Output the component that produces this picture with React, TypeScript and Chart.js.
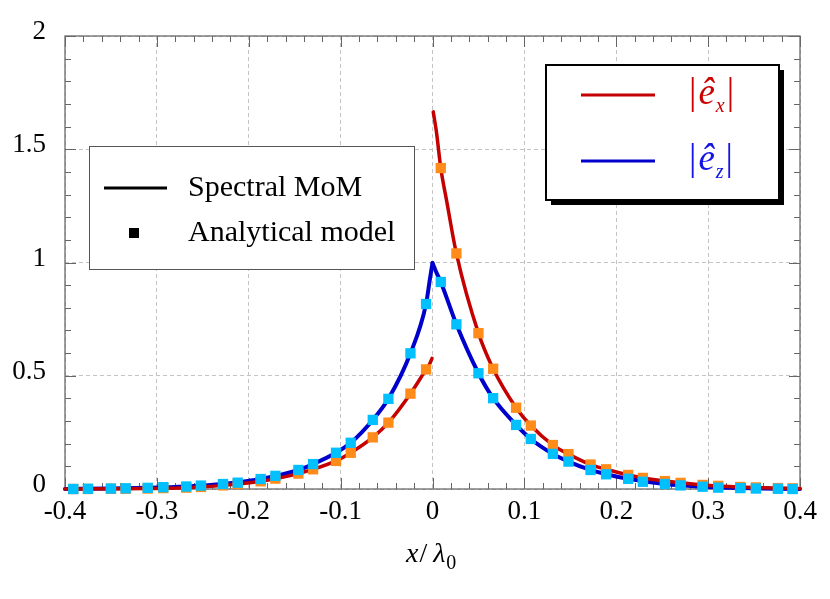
import { useEffect, useRef } from 'react'
import Chart from 'chart.js/auto'

// axis ticks
const xTicks = [-0.4, -0.3, -0.2, -0.1, 0, 0.1, 0.2, 0.3, 0.4]
const xTickLabels = ['-0.4', '-0.3', '-0.2', '-0.1', '0', '0.1', '0.2', '0.3', '0.4']
const yTicks = [0, 0.5, 1, 1.5, 2]
const yTickLabels = ['0', '0.5', '1', '1.5', '2']

// analytical model samples (square markers)
const markerX = [
  -0.391, -0.375, -0.35, -0.334, -0.31, -0.293, -0.268, -0.252, -0.228, -0.212,
  -0.187, -0.171, -0.146, -0.13, -0.105, -0.089, -0.065, -0.048, -0.024, -0.007,
  0.009, 0.026, 0.05, 0.066, 0.091, 0.107, 0.131, 0.148, 0.172, 0.189,
  0.213, 0.229, 0.253, 0.27, 0.294, 0.311, 0.335, 0.352, 0.376, 0.392,
]
const exMarker = [
  0.0, 0.0, 0.001, 0.001, 0.002, 0.004, 0.006, 0.009, 0.016, 0.022,
  0.034, 0.046, 0.068, 0.087, 0.124, 0.16, 0.228, 0.293, 0.421, 0.528,
  1.417, 1.04, 0.688, 0.531, 0.359, 0.28, 0.194, 0.154, 0.108, 0.087,
  0.062, 0.049, 0.035, 0.027, 0.018, 0.014, 0.009, 0.007, 0.004, 0.003,
]
const ezMarker = [
  0.0, 0.001, 0.002, 0.003, 0.005, 0.008, 0.011, 0.015, 0.022, 0.028,
  0.044, 0.058, 0.084, 0.11, 0.16, 0.204, 0.305, 0.398, 0.599, 0.817,
  0.914, 0.727, 0.511, 0.401, 0.283, 0.221, 0.155, 0.121, 0.084, 0.065,
  0.045, 0.032, 0.022, 0.016, 0.01, 0.006, 0.004, 0.002, 0.001, 0.0,
]

// spectral MoM curves
const exLeftX = [-0.4, -0.35, -0.31, -0.268, -0.228, -0.187, -0.146, -0.105, -0.089, -0.065, -0.048, -0.024, -0.007, -0.003, -0.0005]
const exLeftY = [0.0, 0.001, 0.002, 0.006, 0.016, 0.034, 0.068, 0.124, 0.16, 0.228, 0.293, 0.421, 0.528, 0.553, 0.577]
const exRightX = [0.0008, 0.0045, 0.009, 0.0155, 0.026, 0.05, 0.066, 0.091, 0.107, 0.131, 0.148, 0.172, 0.189, 0.213, 0.229, 0.253, 0.294, 0.335, 0.376, 0.4]
const exRightY = [1.665, 1.57, 1.417, 1.27, 1.04, 0.688, 0.531, 0.359, 0.28, 0.194, 0.154, 0.108, 0.087, 0.062, 0.049, 0.035, 0.018, 0.009, 0.004, 0.002]
const ezLeftX = [-0.4, -0.35, -0.31, -0.268, -0.228, -0.187, -0.146, -0.13, -0.105, -0.089, -0.065, -0.048, -0.024, -0.007, -0.003, 0]
const ezLeftY = [0.0, 0.002, 0.005, 0.011, 0.022, 0.044, 0.084, 0.11, 0.16, 0.204, 0.305, 0.398, 0.599, 0.817, 0.922, 0.998]
const ezRightX = [0, 0.004, 0.009, 0.026, 0.05, 0.066, 0.091, 0.107, 0.131, 0.148, 0.172, 0.189, 0.213, 0.253, 0.294, 0.335, 0.376, 0.4]
const ezRightY = [0.998, 0.958, 0.914, 0.727, 0.511, 0.401, 0.283, 0.221, 0.155, 0.121, 0.084, 0.065, 0.045, 0.022, 0.01, 0.004, 0.001, 0.0]

const RED = '#c40000'
const BLUE = '#0000cc'
const ORANGE = '#ff8c1a'
const CYAN = '#00c0ff'
const SERIF = '"Liberation Serif", "Times New Roman", serif'

const pts = (xs: number[], ys: number[]) => xs.map((x, i) => ({ x, y: ys[i] }))

const decor = {
  id: 'decor',
  beforeDatasetsDraw(chart: any) {
    const { ctx, chartArea: a, scales } = chart
    const xs = scales.x
    const ys = scales.y
    ctx.save()
    ctx.strokeStyle = '#666'
    ctx.lineWidth = 1
    ctx.beginPath()
    for (let i = -20; i <= 20; i++) {
      const px = Math.round(xs.getPixelForValue(i * 0.02)) + 0.5
      const len = i % 5 === 0 ? 11 : 6
      ctx.moveTo(px, a.bottom); ctx.lineTo(px, a.bottom - len)
      ctx.moveTo(px, a.top); ctx.lineTo(px, a.top + len)
    }
    for (let i = 0; i <= 20; i++) {
      const py = Math.round(ys.getPixelForValue(i * 0.1)) + 0.5
      const len = i % 5 === 0 ? 11 : 6
      ctx.moveTo(a.left, py); ctx.lineTo(a.left + len, py)
      ctx.moveTo(a.right, py); ctx.lineTo(a.right - len, py)
    }
    ctx.stroke()
    ctx.lineWidth = 1.3
    ctx.strokeStyle = '#6a6a6a'
    ctx.strokeRect(a.left, a.top, a.right - a.left, a.bottom - a.top)
    ctx.restore()
  },
  afterDatasetsDraw(chart: any) {
    const { ctx } = chart
    ctx.save()
    // legend: method
    ctx.fillStyle = '#fff'
    ctx.fillRect(89.5, 146.5, 325, 123)
    ctx.strokeStyle = '#555'
    ctx.lineWidth = 1
    ctx.strokeRect(89.5, 146.5, 325, 123)
    ctx.strokeStyle = '#000'
    ctx.lineWidth = 3
    ctx.beginPath(); ctx.moveTo(104, 188); ctx.lineTo(167, 188); ctx.stroke()
    ctx.fillStyle = '#000'
    ctx.fillRect(129, 228, 10, 10)
    ctx.font = `30px ${SERIF}`
    ctx.textBaseline = 'alphabetic'
    ctx.textAlign = 'left'
    ctx.fillText('Spectral MoM', 188, 196)
    ctx.fillText('Analytical model', 188, 241)

    // legend: components
    ctx.fillStyle = '#000'
    ctx.fillRect(551, 70, 233, 135)
    ctx.fillStyle = '#fff'
    ctx.fillRect(546, 65, 233, 135)
    ctx.strokeStyle = '#000'
    ctx.lineWidth = 2
    ctx.strokeRect(546, 65, 233, 135)
    const rows = [
      { y: 95, color: RED, text: '#cc0000', sub: 'x' },
      { y: 161, color: BLUE, text: '#1414e6', sub: 'z' },
    ]
    for (const r of rows) {
      ctx.strokeStyle = r.color
      ctx.lineWidth = 3
      ctx.beginPath(); ctx.moveTo(581, r.y); ctx.lineTo(655, r.y); ctx.stroke()
      ctx.fillStyle = r.text
      const base = r.y + 9
      let x = 689
      ctx.font = `37px ${SERIF}`
      ctx.fillText('|', x, base)
      x += ctx.measureText('|').width + 2
      ctx.font = `italic 37px ${SERIF}`
      ctx.fillText('ê', x, base)
      x += ctx.measureText('ê').width + 1
      ctx.font = `italic 20px ${SERIF}`
      ctx.fillText(r.sub, x, base + 8)
      x += ctx.measureText(r.sub).width + 2
      ctx.font = `37px ${SERIF}`
      ctx.fillText('|', x, base)
    }

    // x axis title
    ctx.fillStyle = '#000'
    let tx = 406
    ctx.font = `italic 28px ${SERIF}`
    ctx.fillText('x', tx, 562)
    tx += ctx.measureText('x').width + 1
    ctx.font = `28px ${SERIF}`
    ctx.fillText('/', tx, 562)
    tx += ctx.measureText('/').width + 6
    ctx.font = `italic 28px ${SERIF}`
    ctx.fillText('λ', tx, 562)
    tx += ctx.measureText('λ').width + 1
    ctx.font = `20px ${SERIF}`
    ctx.fillText('0', tx, 569)
    ctx.restore()
  },
}

export default function App() {
  const ref = useRef<HTMLCanvasElement>(null)
  useEffect(() => {
    document.body.style.margin = '0'
    if (!ref.current) return
    const line = (data: any, color: string, width: number) => ({
      data, showLine: true, borderColor: color, borderWidth: width, pointRadius: 0, fill: false,
      cubicInterpolationMode: 'monotone', borderCapStyle: 'round', borderJoinStyle: 'round', clip: false,
    })
    const marks = (ys: number[], color: string) => ({
      data: pts(markerX, ys), showLine: false, pointStyle: 'rect', pointRadius: 7.3,
      backgroundColor: color, borderWidth: 0, clip: false,
    })
    const chart = new Chart(ref.current, {
      type: 'scatter',
      data: {
        datasets: [
          marks(ezMarker, CYAN),
          marks(exMarker, ORANGE),
          line(pts(exLeftX, exLeftY), RED, 3.5),
          line(pts(exRightX, exRightY), RED, 3.5),
          line(pts(ezLeftX, ezLeftY), BLUE, 4),
          line(pts(ezRightX, ezRightY), BLUE, 4),
        ] as any,
      },
      options: {
        responsive: false,
        animation: false,
        events: [],
        layout: { padding: { top: 36, right: 30, left: 0, bottom: 0 } },
        plugins: { legend: { display: false }, tooltip: { enabled: false } },
        scales: {
          x: {
            type: 'linear', min: -0.4, max: 0.4,
            afterBuildTicks: (s: any) => { s.ticks = xTicks.map(v => ({ value: v })) },
            afterFit: (s: any) => { s.height = 110 },
            ticks: { callback: (_v: any, i: number) => xTickLabels[i], color: '#000', font: { family: SERIF, size: 27 }, padding: 7, maxRotation: 0 },
            grid: { color: '#c4c4c4', lineWidth: 1, drawTicks: false },
            border: { display: false, dash: [4, 3] },
          },
          y: {
            type: 'linear', min: 0, max: 2,
            afterBuildTicks: (s: any) => { s.ticks = yTicks.map(v => ({ value: v })) },
            afterFit: (s: any) => { s.width = 65 },
            ticks: { callback: (_v: any, i: number) => yTickLabels[i], color: '#000', font: { family: SERIF, size: 27 }, padding: 19, labelOffset: -4 },
            grid: { color: '#c4c4c4', lineWidth: 1, drawTicks: false },
            border: { display: false, dash: [4, 3] },
          },
        },
      },
      plugins: [decor],
    })
    return () => chart.destroy()
  }, [])
  return <canvas ref={ref} width={830} height={599} />
}
